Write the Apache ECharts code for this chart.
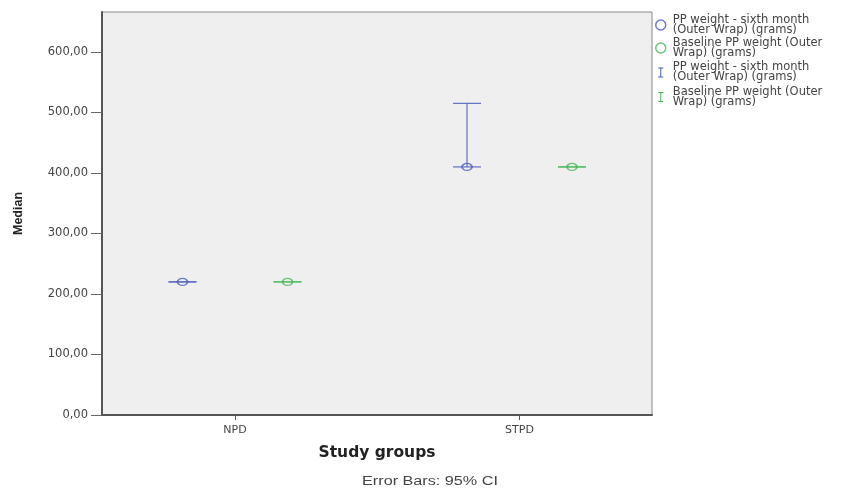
<!DOCTYPE html>
<html>
<head>
<meta charset="utf-8">
<script src="https://cdn.jsdelivr.net/npm/echarts@6/dist/echarts.min.js"></script>
<style>
html,body{margin:0;padding:0;background:#fff;}
#chart{width:847px;height:498px;}
</style>
</head>
<body>
<div id="chart"></div>
<script>
// ---- data ----
const categories = ['NPD', 'STPD'];
const ppMedian = [220, 410];      // PP weight - sixth month
const baseMedian = [220, 410];    // Baseline PP weight
const ppLow = [220, 410];
const ppHigh = [220, 515];
const baseLow = [220, 410];
const baseHigh = [220, 410];
const yTicks = [0, 100, 200, 300, 400, 500, 600];

const legendLabels = {
  ppMed: 'PP weight - sixth month\n(Outer Wrap) (grams)',
  baseMed: 'Baseline PP weight (Outer\nWrap) (grams)',
  ppCI: 'PP weight - sixth month\n(Outer Wrap) (grams)',
  baseCI: 'Baseline PP weight (Outer\nWrap) (grams)'
};

// ---- style ----
const BLUE = '#4a5cbc';
const GREEN = '#45b85a';
const OFF = 0.1845;
const FONT = 'DejaVu Sans';

function renderErr(params, api) {
  const x = api.value(0), lo = api.value(1), hi = api.value(2);
  const pLo = api.coord([x, lo]);
  const pHi = api.coord([x, hi]);
  const hw = 14;
  const color = api.visual('color');
  const shapes = [
    {x1: pHi[0] - hw, y1: pHi[1], x2: pHi[0] + hw, y2: pHi[1]},
    {x1: pLo[0] - hw, y1: pLo[1], x2: pLo[0] + hw, y2: pLo[1]}
  ];
  if (pLo[1] - pHi[1] > 0.5) shapes.push({x1: pLo[0], y1: pLo[1], x2: pHi[0], y2: pHi[1]});
  return {
    type: 'group',
    children: shapes.map(s => ({type: 'line', shape: s, style: {stroke: color, lineWidth: 1.2, opacity: 0.85}}))
  };
}

const chart = echarts.init(document.getElementById('chart'), null, {renderer: 'canvas'});
const barIcon = 'path://M0,0h5v1h-2v8h2v1h-5v-1h2v-8h-2z';

chart.setOption({
  animation: false,
  backgroundColor: '#ffffff',
  grid: {
    left: 102, top: 12, width: 550, height: 403,
    show: true, backgroundColor: '#efefef', borderColor: '#8a8a8a', borderWidth: 1
  },
  legend: {
    orient: 'vertical', left: 650, top: 9,
    itemWidth: 14, itemHeight: 10, itemGap: 1,
    textStyle: {fontFamily: FONT, fontSize: 11.5, lineHeight: 10, color: '#444'},
    formatter: n => legendLabels[n],
    selectedMode: false,
    data: [
      {name: 'ppMed', icon: 'circle', itemStyle: {color: 'transparent', borderColor: BLUE, borderWidth: 1.5}},
      {name: 'baseMed', icon: 'circle', itemStyle: {color: 'transparent', borderColor: GREEN, borderWidth: 1.5}},
      {name: 'ppCI', icon: barIcon, itemStyle: {color: BLUE, borderWidth: 0}, textStyle: {padding: [5, 0, 0, 0]}},
      {name: 'baseCI', icon: barIcon, itemStyle: {color: GREEN, borderWidth: 0}}
    ]
  },
  xAxis: {
    type: 'value',
    min: -0.4675, max: 1.4657,
    name: 'Study groups', nameLocation: 'middle', nameGap: 30,
    nameTextStyle: {fontFamily: FONT, fontSize: 15.5, fontWeight: 'bold', color: '#222'},
    splitLine: {show: false},
    axisLine: {show: true, lineStyle: {color: '#555', width: 2}},
    axisTick: {show: true, length: 5, customValues: categories.map((c, i) => i), lineStyle: {color: '#555'}},
    axisLabel: {
      customValues: categories.map((c, i) => i),
      formatter: v => categories[Math.round(v)] || '',
      fontFamily: FONT, fontSize: 11, color: '#444', margin: 10
    }
  },
  yAxis: {
    type: 'value', min: 0, max: 666,
    name: 'Median', nameLocation: 'middle', nameGap: 77,
    nameTextStyle: {fontFamily: 'Liberation Sans', fontSize: 12.5, fontWeight: 'bold', color: '#222'},
    splitLine: {show: false},
    axisLine: {show: true, onZero: false, lineStyle: {color: '#555', width: 2}},
    axisTick: {show: true, length: 11, customValues: yTicks, lineStyle: {color: '#666'}},
    axisLabel: {
      customValues: yTicks,
      formatter: v => v.toFixed(2).replace('.', ','),
      fontFamily: FONT, fontSize: 11.5, color: '#444', margin: 14
    }
  },
  graphic: [{
    type: 'text',
    x: 430, y: 482, scaleX: 1.35,
    style: {text: 'Error Bars: 95% CI', fontFamily: 'Liberation Sans', fontSize: 12, fill: '#444', textAlign: 'center', textVerticalAlign: 'middle'}
  }],
  series: [
    {
      name: 'ppCI', type: 'custom', renderItem: renderErr,
      itemStyle: {color: BLUE}, encode: {x: 0, y: [1, 2]},
      data: categories.map((c, i) => [i - OFF, ppLow[i], ppHigh[i]]), z: 2
    },
    {
      name: 'baseCI', type: 'custom', renderItem: renderErr,
      itemStyle: {color: GREEN}, encode: {x: 0, y: [1, 2]},
      data: categories.map((c, i) => [i + OFF, baseLow[i], baseHigh[i]]), z: 2
    },
    {
      name: 'ppMed', type: 'scatter', symbol: 'circle', symbolSize: [10, 7],
      itemStyle: {color: 'transparent', borderColor: BLUE, borderWidth: 1.5},
      data: categories.map((c, i) => [i - OFF, ppMedian[i]]), z: 3
    },
    {
      name: 'baseMed', type: 'scatter', symbol: 'circle', symbolSize: [10, 7],
      itemStyle: {color: 'transparent', borderColor: GREEN, borderWidth: 1.5},
      data: categories.map((c, i) => [i + OFF, baseMedian[i]]), z: 3
    }
  ]
});
</script>
</body>
</html>
